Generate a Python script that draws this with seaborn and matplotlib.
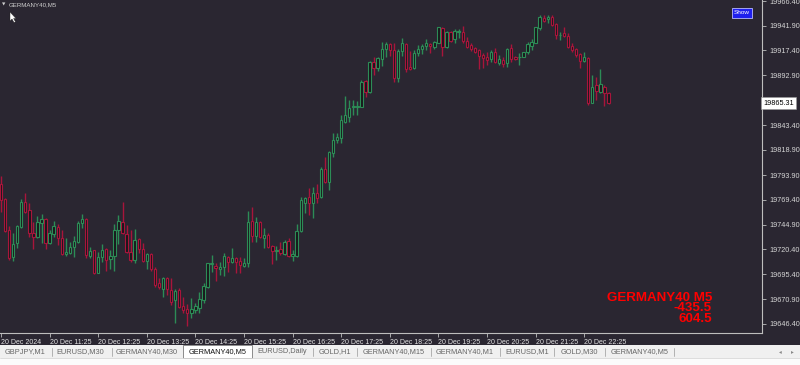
import matplotlib
matplotlib.use("Agg")
import matplotlib.pyplot as plt
import seaborn as sns
import numpy as np
import pandas as pd
from matplotlib.patches import Rectangle, Polygon

# ---------------- data ----------------
symbol = "GERMANY40,M5"

opens = [
    19784.7, 19769.9, 19739.5, 19713.1, 19726.3, 19742.8, 19766.9, 19759.3, 19736.2, 19732.2,
    19746.1, 19750.1, 19726.3, 19735.5, 19742.8, 19731.2, 19715.4, 19717.1, 19723.0, 19727.9,
    19746.1, 19750.1, 19713.8, 19719.7, 19697.3, 19713.1, 19720.4, 19710.5, 19713.8, 19739.5,
    19747.4, 19735.5, 19717.4, 19709.8, 19730.3, 19720.4, 19708.8, 19715.4, 19700.6, 19686.7,
    19681.4, 19691.6, 19680.1, 19670.2, 19680.1, 19664.3, 19661.3, 19657.0, 19660.3, 19662.0,
    19670.1, 19682.7, 19705.7, 19704.1, 19700.5, 19702.5, 19713.0, 19708.1, 19711.4, 19708.7,
    19703.8, 19706.4, 19748.7, 19733.5, 19747.7, 19731.2, 19734.5, 19723.6, 19718.6, 19720.6,
    19715.7, 19728.5, 19713.7, 19713.7, 19738.8, 19766.5, 19771.8, 19766.5, 19776.4, 19771.8,
    19799.6, 19787.4, 19816.1, 19828.7, 19830.3, 19846.8, 19851.8, 19861.0, 19861.0, 19861.7,
    19887.1, 19876.6, 19906.3, 19899.7, 19908.6, 19918.5, 19923.5, 19917.8, 19889.8, 19917.2,
    19923.5, 19900.7, 19899.7, 19914.5, 19918.5, 19921.8, 19923.8, 19921.1, 19925.1, 19939.3,
    19921.1, 19936.0, 19928.4, 19936.0, 19936.0, 19927.1, 19922.8, 19919.5, 19917.8, 19912.9,
    19910.6, 19908.6, 19916.2, 19905.3, 19907.9, 19904.6, 19919.5, 19911.2, 19910.6, 19911.2,
    19915.5, 19921.8, 19925.1, 19939.3, 19949.9, 19948.2, 19950.2, 19943.6, 19932.7, 19934.4,
    19931.7, 19921.8, 19918.5, 19913.9, 19907.3, 19909.6, 19865.0, 19883.2, 19876.6, 19881.5,
    19874.9,
]
highs = [
    19793.0, 19770.9, 19743.5, 19736.2, 19744.4, 19769.9, 19776.5, 19765.9, 19747.8, 19753.4,
    19755.0, 19751.0, 19739.5, 19748.7, 19745.4, 19739.5, 19731.2, 19727.9, 19733.6, 19748.1,
    19755.0, 19751.0, 19723.0, 19720.0, 19718.1, 19725.6, 19721.4, 19719.7, 19745.4, 19754.4,
    19767.5, 19744.4, 19739.5, 19740.5, 19731.2, 19726.3, 19716.4, 19716.4, 19702.5, 19691.6,
    19693.3, 19693.3, 19691.6, 19680.8, 19681.7, 19672.8, 19666.2, 19671.9, 19666.9, 19678.4,
    19686.6, 19707.1, 19714.7, 19706.4, 19708.1, 19716.3, 19713.7, 19721.3, 19712.4, 19712.4,
    19711.4, 19758.3, 19761.9, 19752.0, 19748.7, 19741.8, 19736.8, 19724.6, 19723.6, 19727.9,
    19729.5, 19731.2, 19719.6, 19745.1, 19771.8, 19772.5, 19780.7, 19781.7, 19785.0, 19802.2,
    19812.1, 19818.1, 19835.3, 19835.3, 19853.4, 19872.3, 19868.3, 19868.3, 19867.6, 19888.1,
    19888.1, 19907.3, 19910.6, 19911.2, 19925.4, 19926.1, 19925.1, 19924.5, 19918.5, 19929.4,
    19924.5, 19917.2, 19917.8, 19922.8, 19923.8, 19928.4, 19925.1, 19927.1, 19941.0, 19940.3,
    19936.7, 19937.0, 19938.3, 19938.3, 19941.6, 19931.1, 19925.1, 19920.5, 19918.5, 19914.5,
    19916.2, 19917.9, 19919.5, 19912.9, 19911.2, 19919.5, 19923.8, 19911.9, 19914.5, 19916.2,
    19926.1, 19928.4, 19941.0, 19952.5, 19952.5, 19952.5, 19952.5, 19944.9, 19936.0, 19940.3,
    19934.4, 19924.5, 19919.5, 19914.5, 19916.2, 19910.6, 19893.1, 19891.4, 19898.7, 19883.2,
    19876.6,
]
lows = [
    19757.7, 19737.9, 19709.8, 19708.8, 19721.4, 19741.1, 19756.0, 19732.2, 19721.0, 19731.2,
    19726.3, 19720.4, 19725.3, 19732.2, 19724.7, 19714.7, 19713.8, 19715.7, 19713.1, 19727.0,
    19741.1, 19711.5, 19711.5, 19696.0, 19696.6, 19708.2, 19699.2, 19700.6, 19699.2, 19725.3,
    19735.5, 19717.1, 19708.2, 19706.5, 19716.4, 19707.5, 19700.9, 19699.2, 19683.4, 19680.8,
    19673.5, 19675.2, 19665.2, 19647.8, 19661.9, 19657.0, 19644.5, 19652.1, 19657.7, 19657.0,
    19666.8, 19681.7, 19698.2, 19689.3, 19694.9, 19693.9, 19698.2, 19706.4, 19696.5, 19696.5,
    19702.5, 19703.1, 19727.9, 19727.9, 19731.2, 19722.0, 19721.3, 19705.4, 19709.7, 19714.7,
    19714.7, 19712.4, 19708.7, 19713.0, 19737.8, 19756.0, 19754.3, 19751.0, 19766.5, 19770.9,
    19785.7, 19779.1, 19812.1, 19826.0, 19826.0, 19845.2, 19846.8, 19853.4, 19853.4, 19861.0,
    19870.9, 19875.6, 19893.1, 19897.4, 19902.0, 19910.6, 19911.9, 19886.5, 19886.5, 19911.9,
    19896.4, 19898.0, 19898.7, 19911.9, 19913.5, 19917.8, 19914.5, 19918.5, 19924.5, 19911.9,
    19919.5, 19926.1, 19924.5, 19929.4, 19924.5, 19919.5, 19917.2, 19915.2, 19898.7, 19899.7,
    19903.0, 19906.3, 19904.6, 19903.0, 19901.3, 19901.3, 19906.3, 19907.9, 19903.0, 19910.6,
    19913.9, 19917.9, 19924.5, 19937.7, 19945.9, 19944.9, 19941.6, 19928.4, 19927.8, 19931.1,
    19919.5, 19916.2, 19911.2, 19899.7, 19906.3, 19863.4, 19865.0, 19868.3, 19874.9, 19862.4,
    19864.3,
]
closes = [
    19769.2, 19738.9, 19711.5, 19725.3, 19743.5, 19767.5, 19757.0, 19736.2, 19732.2, 19747.1,
    19750.1, 19726.3, 19736.2, 19743.5, 19731.2, 19715.4, 19718.1, 19722.4, 19729.0, 19746.1,
    19750.1, 19714.7, 19718.7, 19697.3, 19712.4, 19719.7, 19709.8, 19713.8, 19739.5, 19748.4,
    19736.2, 19718.1, 19709.8, 19729.6, 19720.4, 19709.1, 19715.4, 19700.6, 19685.0, 19682.7,
    19691.6, 19680.8, 19668.5, 19679.4, 19662.9, 19660.3, 19657.0, 19661.3, 19664.6, 19670.9,
    19684.0, 19706.4, 19706.4, 19701.5, 19702.5, 19713.7, 19708.1, 19711.4, 19708.1, 19704.8,
    19706.4, 19747.7, 19733.5, 19747.7, 19732.2, 19734.5, 19722.9, 19719.0, 19719.6, 19716.3,
    19727.9, 19713.7, 19715.7, 19738.8, 19769.2, 19770.8, 19766.5, 19776.4, 19770.8, 19799.6,
    19787.4, 19817.1, 19828.7, 19832.0, 19848.5, 19853.4, 19860.1, 19862.3, 19862.3, 19886.5,
    19876.6, 19906.3, 19899.7, 19909.6, 19918.5, 19923.8, 19917.8, 19889.8, 19916.9, 19925.1,
    19898.7, 19899.0, 19914.5, 19918.5, 19921.8, 19925.1, 19921.8, 19926.1, 19940.3, 19921.1,
    19936.0, 19927.1, 19937.0, 19937.0, 19927.1, 19921.1, 19918.5, 19916.2, 19911.9, 19909.6,
    19907.9, 19916.2, 19906.3, 19908.6, 19904.0, 19918.5, 19908.6, 19908.6, 19911.2, 19915.5,
    19923.8, 19926.1, 19940.3, 19950.2, 19946.9, 19950.9, 19942.6, 19932.7, 19932.7, 19931.7,
    19920.5, 19917.9, 19912.9, 19907.3, 19910.6, 19865.7, 19881.5, 19877.6, 19884.2, 19875.6,
    19865.0,
]

time_labels = ["20 Dec 2024", "20 Dec 11:25", "20 Dec 12:25", "20 Dec 13:25", "20 Dec 14:25",
               "20 Dec 15:25", "20 Dec 16:25", "20 Dec 17:25", "20 Dec 18:25", "20 Dec 19:25",
               "20 Dec 20:25", "20 Dec 21:25", "20 Dec 22:25"]
price_ticks = [19966.40, 19941.90, 19917.40, 19892.90, 19868.40, 19843.40, 19818.90,
               19793.90, 19769.40, 19744.90, 19720.40, 19695.40, 19670.90, 19646.40]
last_price = 19865.31
info_lines = ["GERMANY40 M5", "-435.5", "604.5"]
tabs = ["GBPJPY,M1", "EURUSD,M30", "GERMANY40,M30", "GERMANY40,M5", "EURUSD,Daily",
        "GOLD,H1", "GERMANY40,M15", "GERMANY40,M1", "EURUSD,M1", "GOLD,M30", "GERMANY40,M5"]
active_tab = 3

# ---------------- frame ----------------
df = pd.DataFrame({"open": opens, "high": highs, "low": lows, "close": closes})
df["idx"] = np.arange(len(df))
df["bull"] = df["close"] >= df["open"]

BG = "#2a2631"
UP = "#2c8c56"
DN = "#a8153b"
BODY = "#18171b"
AXC = "#bdbdbd"

sns.set_theme(style="dark", rc={"axes.facecolor": BG, "figure.facecolor": BG,
                                "savefig.facecolor": BG})
plt.rcParams["font.family"] = ["Liberation Sans", "DejaVu Sans"]

W, H = 800, 365
fig = plt.figure(figsize=(8, 3.65), dpi=100)
ax = fig.add_axes([0, (H - 333) / H, 762 / W, 333 / H])
ax.set_facecolor(BG)

colors = np.where(df["bull"], UP, DN)
ax.vlines(df["idx"], df["low"], df["high"], colors=colors, linewidth=1.0, zorder=2)
body_lo = np.minimum(df["open"], df["close"])
body_h = (df["close"] - df["open"]).abs()
ax.bar(df["idx"], body_h, bottom=body_lo, width=0.58, color=BODY, edgecolor=colors,
       linewidth=0.8, zorder=3)

ax.set_xlim(-0.25, 187.9)
ax.set_ylim(19637.4, 19967.4)

for s in ["left", "top"]:
    ax.spines[s].set_visible(False)
for s in ["right", "bottom"]:
    ax.spines[s].set_visible(True)
    ax.spines[s].set_color(AXC)
    ax.spines[s].set_linewidth(0.8)

ax.yaxis.tick_right()
ax.set_yticks(price_ticks)
# the tick label nearest the live price sits under the price box, so it is not shown
ax.set_yticklabels(["" if abs(v - last_price) < 10 else f"{v:.2f}" for v in price_ticks])
ax.tick_params(axis="y", which="major", right=True, left=False, direction="out",
               length=3, width=0.6, color=AXC, labelcolor="#d6d6d6", labelsize=5.2, pad=2)

xt = list(range(0, 12 * len(time_labels), 12))
ax.set_xticks(xt)
ax.set_xticklabels(time_labels)
for t in ax.get_xticklabels():
    t.set_horizontalalignment("left")
ax.tick_params(axis="x", which="major", bottom=True, direction="out", length=3,
               width=0.6, color=AXC, labelcolor="#e2e2e2", labelsize=5.0, pad=1.5)

# current price box
ax.text(1.002, last_price, f"{last_price:.2f}", transform=ax.get_yaxis_transform(),
        ha="left", va="center", fontsize=5.2, color="black", clip_on=False, zorder=10,
        bbox=dict(boxstyle="square,pad=0.3", fc="white", ec="#9a9a9a", lw=0.4))


def fx(px):
    return px / W


def fy(py):
    return 1 - py / H


# title + cursor
fig.text(fx(2), fy(5), "\u25bc", fontsize=3.2, color="#d0d0d0", va="center",
         family="DejaVu Sans")
fig.text(fx(9), fy(5), symbol, fontsize=4.4, color="#d0d0d0", va="center")
cursor = [(10, 12), (10, 21), (12, 19), (14, 22.5), (15.5, 21.8), (13.6, 18.5), (16, 18.5)]
fig.add_artist(Polygon([(fx(a), fy(b)) for a, b in cursor], closed=True,
                       transform=fig.transFigure, fc="white", ec="#222222", lw=0.3))

# Show button
fig.add_artist(Rectangle((fx(732), fy(18)), fx(20), 10 / H, transform=fig.transFigure,
                         fc="#1f1fee", ec="#b8b8ff", lw=0.6))
fig.text(fx(742), fy(12.8), "Show", fontsize=4.6, color="white", ha="center", va="center")

# red info text (one block, right aligned)
fig.text(fx(712), fy(292), "\n".join(info_lines), ha="right", va="top",
         multialignment="right", linespacing=0.82, fontsize=9.6,
         fontweight="bold", color="#ff0000")

# tab bar
fig.add_artist(Rectangle((0, fy(357.5)), 1, 12.5 / H, transform=fig.transFigure,
                         fc="#f0f0f0", ec="none"))
fig.add_artist(Rectangle((0, 0), 1, fy(357.5), transform=fig.transFigure,
                         fc="#fbfbfb", ec="none"))
fig.add_artist(plt.Line2D([0, 1], [fy(357.5)] * 2, transform=fig.transFigure,
                          color="#d8d8d8", lw=0.6))
tab_centers = [25, 80.7, 146.7, 217.3, 282.3, 335, 394, 464.3, 526.7, 579.3, 639.3]
separators = [51.7, 111.7, 313.3, 356.7, 430.7, 500, 554.3, 605, 674]
for sx in separators:
    fig.add_artist(plt.Line2D([fx(sx)] * 2, [fy(355.5), fy(348)], transform=fig.transFigure,
                              color="#a8a8a8", lw=0.6))
fig.add_artist(Rectangle((fx(183.3), fy(357.5)), fx(68.4), 12.5 / H,
                         transform=fig.transFigure, fc="white", ec="#7a7a7a", lw=0.6))
for i, (name, cx) in enumerate(zip(tabs, tab_centers)):
    fig.text(fx(cx), fy(351.8), name, ha="center", va="center", fontsize=5.3,
             color="#111111" if i == active_tab else "#666666")
fig.text(fx(780), fy(351.8), "\u25c2", fontsize=4, color="#888888", ha="center",
         va="center", family="DejaVu Sans")
fig.text(fx(792), fy(351.8), "\u25b8", fontsize=4, color="#888888", ha="center",
         va="center", family="DejaVu Sans")

fig.savefig("out.png", dpi=100, facecolor=BG)
